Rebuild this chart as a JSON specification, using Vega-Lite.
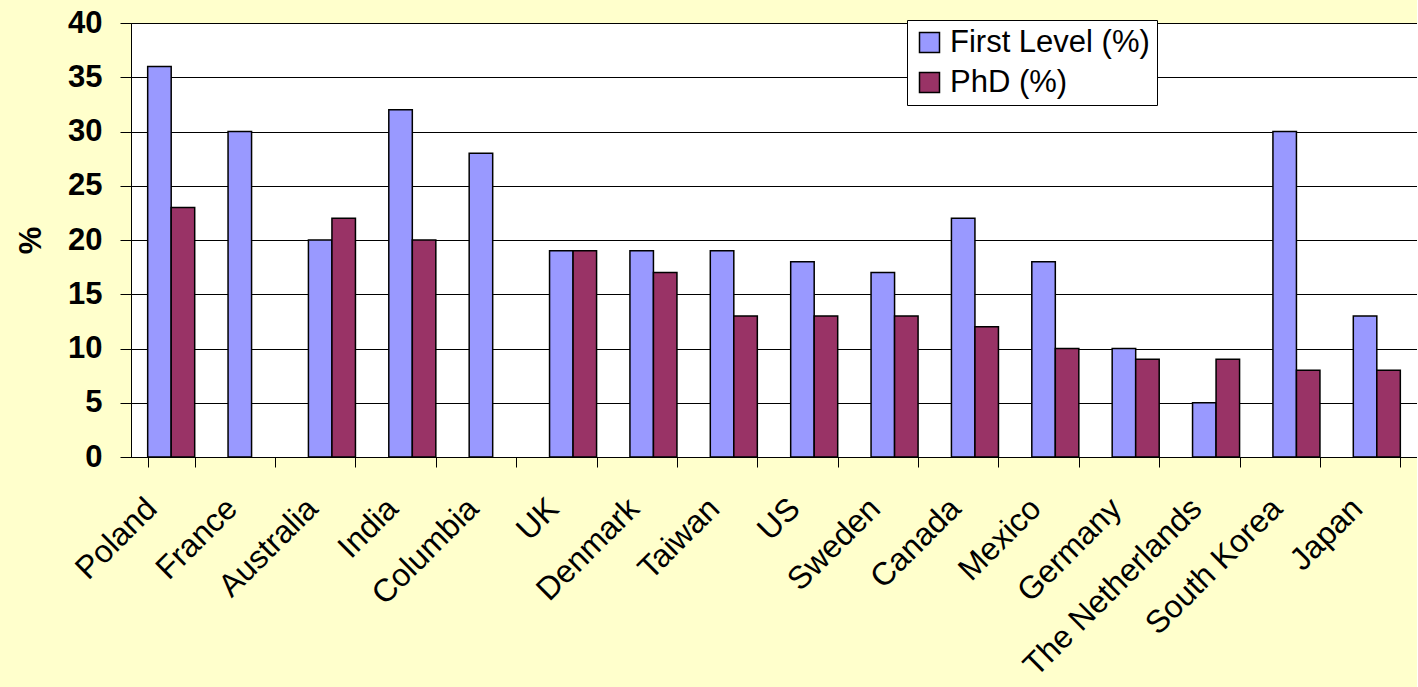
{
  "$schema": "https://vega.github.io/schema/vega-lite/v6.json",
  "width": 1286,
  "height": 434,
  "autosize": {"type": "none"},
  "padding": {"left": 131, "top": 23, "right": 0, "bottom": 230},
  "background": "#FFFFCC",
  "config": {
    "font": "Liberation Sans",
    "view": {"fill": "white", "stroke": "#000000", "strokeWidth": 1}
  },
  "data": {
    "values": [
      {"country": "Poland", "series": "First Level (%)", "value": 36},
      {"country": "Poland", "series": "PhD (%)", "value": 23},
      {"country": "France", "series": "First Level (%)", "value": 30},
      {"country": "Australia", "series": "First Level (%)", "value": 20},
      {"country": "Australia", "series": "PhD (%)", "value": 22},
      {"country": "India", "series": "First Level (%)", "value": 32},
      {"country": "India", "series": "PhD (%)", "value": 20},
      {"country": "Columbia", "series": "First Level (%)", "value": 28},
      {"country": "UK", "series": "First Level (%)", "value": 19},
      {"country": "UK", "series": "PhD (%)", "value": 19},
      {"country": "Denmark", "series": "First Level (%)", "value": 19},
      {"country": "Denmark", "series": "PhD (%)", "value": 17},
      {"country": "Taiwan", "series": "First Level (%)", "value": 19},
      {"country": "Taiwan", "series": "PhD (%)", "value": 13},
      {"country": "US", "series": "First Level (%)", "value": 18},
      {"country": "US", "series": "PhD (%)", "value": 13},
      {"country": "Sweden", "series": "First Level (%)", "value": 17},
      {"country": "Sweden", "series": "PhD (%)", "value": 13},
      {"country": "Canada", "series": "First Level (%)", "value": 22},
      {"country": "Canada", "series": "PhD (%)", "value": 12},
      {"country": "Mexico", "series": "First Level (%)", "value": 18},
      {"country": "Mexico", "series": "PhD (%)", "value": 10},
      {"country": "Germany", "series": "First Level (%)", "value": 10},
      {"country": "Germany", "series": "PhD (%)", "value": 9},
      {"country": "The Netherlands", "series": "First Level (%)", "value": 5},
      {"country": "The Netherlands", "series": "PhD (%)", "value": 9},
      {"country": "South Korea", "series": "First Level (%)", "value": 30},
      {"country": "South Korea", "series": "PhD (%)", "value": 8},
      {"country": "Japan", "series": "First Level (%)", "value": 13},
      {"country": "Japan", "series": "PhD (%)", "value": 8}
    ]
  },
  "mark": {"type": "bar", "stroke": "#000000", "strokeWidth": 1.5},
  "encoding": {
    "x": {
      "field": "country",
      "type": "nominal",
      "sort": null,
      "scale": {"paddingInner": 0.415, "paddingOuter": 0.2075},
      "axis": {
        "title": null,
        "tickBand": "extent",
        "grid": false,
        "domainColor": "#000000",
        "tickColor": "#000000",
        "tickSize": 10,
        "labelAngle": -45,
        "labelAlign": "right",
        "labelBaseline": "middle",
        "labelPadding": 36,
        "labelOffset": -20,
        "labelFontSize": 32,
        "labelColor": "#000000",
        "labelFont": "Liberation Sans",
        "labelOverlap": false,
        "labelBound": false,
        "labelLimit": 600
      }
    },
    "xOffset": {
      "field": "series",
      "type": "nominal",
      "scale": {"domain": ["First Level (%)", "PhD (%)"], "paddingInner": 0, "paddingOuter": 0}
    },
    "y": {
      "field": "value",
      "type": "quantitative",
      "scale": {"domain": [0, 40]},
      "axis": {
        "title": "%",
        "titleFontSize": 31,
        "titleFontWeight": "bold",
        "titleColor": "#000000",
        "titlePadding": 20,
        "values": [0, 5, 10, 15, 20, 25, 30, 35, 40],
        "grid": true,
        "gridColor": "#000000",
        "gridWidth": 1,
        "domainColor": "#000000",
        "tickColor": "#000000",
        "tickSize": 11,
        "labelFontSize": 31,
        "labelFontWeight": "bold",
        "labelColor": "#000000",
        "labelPadding": 18
      }
    },
    "color": {
      "field": "series",
      "type": "nominal",
      "scale": {"domain": ["First Level (%)", "PhD (%)"], "range": ["#9999FF", "#993366"]},
      "legend": {
        "title": null,
        "orient": "none",
        "legendX": 776,
        "legendY": -3,
        "fillColor": "white",
        "strokeColor": "#000000",
        "padding": 7,
        "symbolType": "square",
        "symbolSize": 400,
        "symbolStrokeColor": "#000000",
        "symbolStrokeWidth": 1.5,
        "labelFontSize": 31,
        "labelColor": "#000000",
        "labelLimit": 400,
        "rowPadding": 8,
        "labelOffset": 5
      }
    }
  }
}
